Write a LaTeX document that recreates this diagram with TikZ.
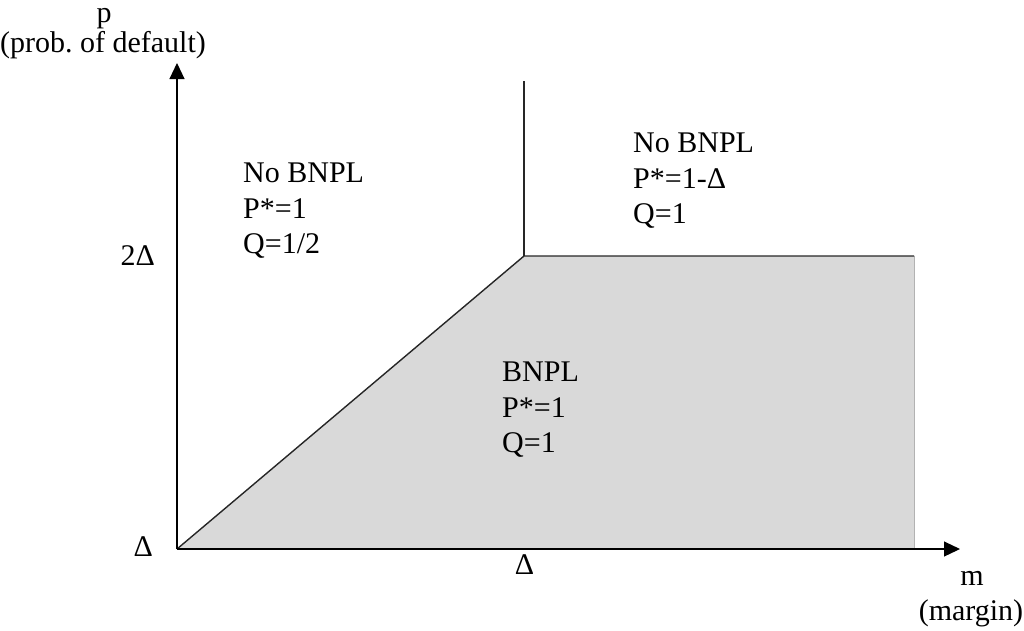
\documentclass[tikz,border=0pt]{standalone}
\usepackage{fontspec}
\setmainfont{Liberation Serif}
\usetikzlibrary{arrows.meta}
\begin{document}
\frenchspacing
\begin{tikzpicture}[x=1pt,y=-1pt,
  axis/.style={line width=1.1pt, -{Triangle[length=16pt,width=15pt]}},
  boundary/.style={line width=1.4pt, draw=black!85},
  region/.style={fill=black!15},
  lbl/.style={inner sep=0pt, font=\fontsize{30}{35.5}\selectfont},
  block/.style={lbl, align=left, anchor=north west}]
\useasboundingbox (0,0) rectangle (1024,630);
% key points of the diagram
\coordinate (O) at (177,549);
\coordinate (K) at (524,256);
\coordinate (R) at (914,256);
\coordinate (RB) at (914,549);
\coordinate (T) at (524,81);
\coordinate (Ytip) at (177,63);
\coordinate (Xtip) at (960,549);
% shaded BNPL region
\fill[region] (O) -- (K) -- (R) -- (RB) -- cycle;
\draw[black!30, line width=0.8pt] (R) -- (RB);
\draw[boundary] (O) -- (K) -- (R);
\draw[boundary] (K) -- (T);
% axes
\draw[axis] (O) -- (Ytip);
\draw[axis] (O) -- (Xtip);
% axis labels
\node[lbl, anchor=base] (p) at (104,22) {p};
\node[lbl, anchor=base] (pd) at (103,52) {(prob. of default)};
\node[lbl, anchor=base east] (d2) at (155,265) {2Δ};
\node[lbl, anchor=base east] (d0) at (153,556) {Δ};
\node[lbl, anchor=base] (dx) at (524.5,574) {Δ};
\node[lbl, anchor=base] (m) at (972,585) {m};
\node[lbl, anchor=base] (mg) at (971,620) {(margin)};
% region labels
\node[block] (left) at (243,163.1) {No BNPL\\P*=1\\Q=1/2};
\node[block] (right) at (633,133.1) {No BNPL\\P*=1-Δ\\Q=1};
\node[block] (mid) at (502,362.1) {BNPL\\P*=1\\Q=1};
\end{tikzpicture}
\end{document}
